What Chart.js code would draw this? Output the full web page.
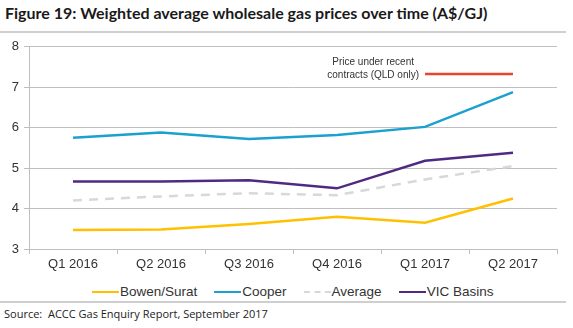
<!DOCTYPE html>
<html>
<head>
<meta charset="utf-8">
<script src="https://cdn.jsdelivr.net/npm/chart.js@4.4.0/dist/chart.umd.min.js"></script>
<style>
  html, body { margin: 0; padding: 0; background: #fff; }
  #wrap { position: relative; width: 573px; height: 328px; overflow: hidden; font-family: "Liberation Sans", Arial, sans-serif; }
  #title { position: absolute; left: 5px; top: 3px; font: bold 16px Lato, "Open Sans", sans-serif; color: #1a1a1a; white-space: nowrap; }
  .rule { position: absolute; left: 0; width: 566px; height: 2px; background: #cfcfcf; }
  #chartBox { position: absolute; left: 0; top: 34px; width: 573px; height: 240px; }
  #legend { position: absolute; top: 284px; left: 92px; display: flex; font-size: 13.5px; color: #333; white-space: nowrap; }
  .item { display: flex; align-items: center; margin-right: 17px; }
  .swatch { width: 27px; height: 0; border-top: 2.5px solid; margin-right: 1px; }
  #source { position: absolute; left: 4px; top: 306px; font: 11px "Open Sans", sans-serif; color: #222; }
</style>
</head>
<body>
<div id="wrap">
  <div id="title">Figure 19: Weighted average wholesale gas prices over time (A$/GJ)</div>
  <div class="rule" style="top:31px"></div>
  <div id="chartBox"><canvas id="c"></canvas></div>
  <div id="legend"></div>
  <div class="rule" style="top:301px"></div>
  <div id="source">Source:&nbsp; ACCC Gas Enquiry Report, September 2017</div>
</div>
<script>
const quarters = ['Q1 2016', 'Q2 2016', 'Q3 2016', 'Q4 2016', 'Q1 2017', 'Q2 2017'];
const bowenSurat = [3.47, 3.48, 3.62, 3.80, 3.65, 4.25];
const cooper = [5.75, 5.88, 5.72, 5.82, 6.02, 6.88];
const average = [4.20, 4.30, 4.38, 4.33, 4.72, 5.05];
const vicBasins = [4.67, 4.67, 4.70, 4.50, 5.18, 5.38];
const qldContracts = [null, null, null, null, 7.33, 7.33];
const yTicks = [3, 4, 5, 6, 7, 8];

const colors = { bowen: '#ffc000', cooper: '#1ba0cf', avg: '#d6d8db', vic: '#4f2a82', qld: '#e8462a' };

const series = [
  { label: 'Bowen/Surat', data: bowenSurat, color: colors.bowen },
  { label: 'Cooper', data: cooper, color: colors.cooper },
  { label: 'Average', data: average, color: colors.avg, dash: [9, 7] },
  { label: 'VIC Basins', data: vicBasins, color: colors.vic }
];

const datasets = series.map(s => ({
  label: s.label,
  data: s.data,
  borderColor: s.color,
  borderWidth: 2.5,
  borderDash: s.dash || [],
  pointRadius: 0,
  tension: 0,
  fill: false
}));
datasets.push({
  label: 'Price under recent contracts (QLD only)',
  data: qldContracts,
  borderColor: colors.qld,
  borderWidth: 2.5,
  pointRadius: 0,
  spanGaps: false
});

// text label sitting left of the QLD line
const qldNote = {
  id: 'qldNote',
  afterDatasetsDraw(chart) {
    const { ctx, scales } = chart;
    const x = scales.x.getPixelForValue(4) - 6;
    const y = scales.y.getPixelForValue(7.33);
    ctx.save();
    ctx.font = '10px "Liberation Sans", Arial, sans-serif';
    ctx.fillStyle = '#333';
    ctx.textAlign = 'center';
    ctx.textBaseline = 'middle';
    const w = ctx.measureText('contracts (QLD only)').width;
    ctx.fillText('Price under recent', x - w / 2, y - 12);
    ctx.fillText('contracts (QLD only)', x - w / 2, y + 1);
    ctx.restore();
  }
};

new Chart(document.getElementById('c'), {
  type: 'line',
  data: { labels: quarters, datasets },
  options: {
    responsive: true,
    maintainAspectRatio: false,
    animation: false,
    layout: { padding: { top: 8, right: 16, left: 0, bottom: 0 } },
    plugins: { legend: { display: false }, tooltip: { enabled: false } },
    scales: {
      x: {
        offset: true,
        grid: { offset: true, drawOnChartArea: false, color: '#bfbfbf', tickLength: 5 },
        border: { color: '#bfbfbf' },
        ticks: { color: '#333', font: { size: 13, family: '"Liberation Sans", Arial' }, padding: 3, maxRotation: 0 },
        afterFit(s) { s.height = 25; }
      },
      y: {
        min: 3,
        max: 8,
        afterBuildTicks(s) { s.ticks = yTicks.map(v => ({ value: v })); },
        grid: { color: '#bfbfbf', tickLength: 5 },
        border: { color: '#bfbfbf' },
        ticks: { color: '#333', font: { size: 13, family: '"Liberation Sans", Arial' }, padding: 5 },
        afterFit(s) { s.width = 29; }
      }
    }
  },
  plugins: [qldNote]
});

const legend = document.getElementById('legend');
legend.innerHTML = series.map(s => `
  <div class="item"><span class="swatch" style="border-color:${s.color};${s.dash ? 'border-top-style:dashed;' : ''}"></span>${s.label}</div>
`).join('');
</script>
</body>
</html>
